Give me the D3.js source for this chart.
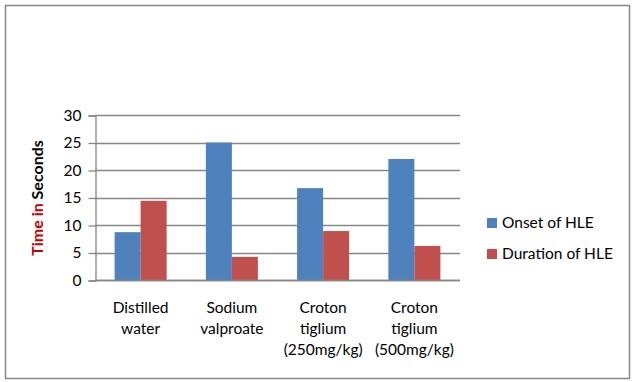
<!DOCTYPE html>
<html>
<head>
<meta charset="utf-8">
<script src="https://cdn.jsdelivr.net/npm/d3@7"></script>
<style>
  body { margin: 0; background: #fff; }
  svg { display: block; font-family: Lato, "Open Sans", sans-serif; }
</style>
</head>
<body>
<svg id="chart"></svg>
<script>
// data
const categories = [
    ["Distilled", "water"],
    ["Sodium", "valproate"],
    ["Croton", "tiglium", "(250mg/kg)"],
    ["Croton", "tiglium", "(500mg/kg)"]
];
const seriesNames = ["Onset of HLE", "Duration of HLE"];
const onset = [8.7, 25, 16.7, 22];
const duration = [14.4, 4.2, 8.9, 6.2];
const yTicks = [0, 5, 10, 15, 20, 25, 30];

const width = 638;
const height = 382;
const colors = ["#4f81bd", "#c0504d"];
const gridColor = "#868686";

const svg = d3.select("#chart")
    .attr("width", width)
    .attr("height", height);

// outer frame
svg.append("rect")
    .attr("x", 5.5).attr("y", 5.5)
    .attr("width", 624).attr("height", 373)
    .attr("fill", "#fff")
    .attr("stroke", "#868686")
    .attr("stroke-width", 1.5);

const plot = {left: 95, right: 460, top: 115, bottom: 280};

const x = d3.scaleBand()
    .domain(d3.range(categories.length))
    .range([plot.left, plot.right])
    .paddingInner(0.43)
    .paddingOuter(0.215);

const xSub = d3.scaleBand()
    .domain(d3.range(seriesNames.length))
    .range([0, x.bandwidth()]);

const y = d3.scaleLinear()
    .domain([0, 30])
    .range([plot.bottom, plot.top]);

// gridlines
svg.append("g")
    .selectAll("line")
    .data(yTicks)
    .join("line")
    .attr("x1", plot.left)
    .attr("x2", plot.right)
    .attr("y1", d => Math.round(y(d)) + 0.5)
    .attr("y2", d => Math.round(y(d)) + 0.5)
    .attr("stroke", gridColor)
    .attr("stroke-width", 1.3);

// y axis
const yAxis = svg.append("g")
    .attr("transform", "translate(" + (plot.left + 0.5) + ",0.5)")
    .call(d3.axisLeft(y).tickValues(yTicks).tickSize(7).tickPadding(7));
yAxis.select(".domain").attr("stroke", gridColor).attr("stroke-width", 1.3);
yAxis.selectAll(".tick line").attr("stroke", gridColor).attr("stroke-width", 1.3);
yAxis.selectAll(".tick text")
    .attr("font-size", 15.5)
    .attr("font-family", "Lato, 'Open Sans', sans-serif")
    .attr("fill", "#000");

// bars
const data = categories.map((c, i) => [onset[i], duration[i]]);
svg.append("g")
    .selectAll("g")
    .data(data)
    .join("g")
    .attr("transform", (d, i) => "translate(" + x(i) + ",0)")
    .selectAll("rect")
    .data(d => d)
    .join("rect")
    .attr("x", (d, j) => xSub(j))
    .attr("width", xSub.bandwidth())
    .attr("y", d => y(d))
    .attr("height", d => plot.bottom - y(d))
    .attr("fill", (d, j) => colors[j]);

// redraw baseline over bars
svg.append("line")
    .attr("x1", plot.left).attr("x2", plot.right)
    .attr("y1", plot.bottom + 0.5).attr("y2", plot.bottom + 0.5)
    .attr("stroke", gridColor).attr("stroke-width", 1.3);

// category labels
svg.append("g")
    .selectAll("text")
    .data(categories)
    .join("text")
    .attr("x", (d, i) => x(i) + x.bandwidth() / 2)
    .attr("y", 313)
    .attr("text-anchor", "middle")
    .attr("font-size", 15.5)
    .attr("fill", "#000")
    .selectAll("tspan")
    .data(d => d)
    .join("tspan")
    .attr("x", function() { return d3.select(this.parentNode).attr("x"); })
    .attr("dy", (d, k) => k === 0 ? 0 : 21)
    .text(d => d);

// y axis title
const title = svg.append("text")
    .attr("transform", "translate(43,198) rotate(-90)")
    .attr("text-anchor", "middle")
    .attr("font-size", 16)
    .attr("font-weight", "bold");
title.append("tspan").attr("fill", "#c00000").text("Time in ");
title.append("tspan").attr("fill", "#000").text("Seconds");

// legend
const legend = svg.append("g")
    .selectAll("g")
    .data(seriesNames)
    .join("g")
    .attr("transform", (d, i) => "translate(487," + (218 + i * 31) + ")");
legend.append("rect")
    .attr("width", 10).attr("height", 10)
    .attr("fill", (d, i) => colors[i]);
legend.append("text")
    .attr("x", 15).attr("y", 10)
    .attr("font-size", 15.5)
    .attr("fill", "#000")
    .text(d => d);
</script>
</body>
</html>
